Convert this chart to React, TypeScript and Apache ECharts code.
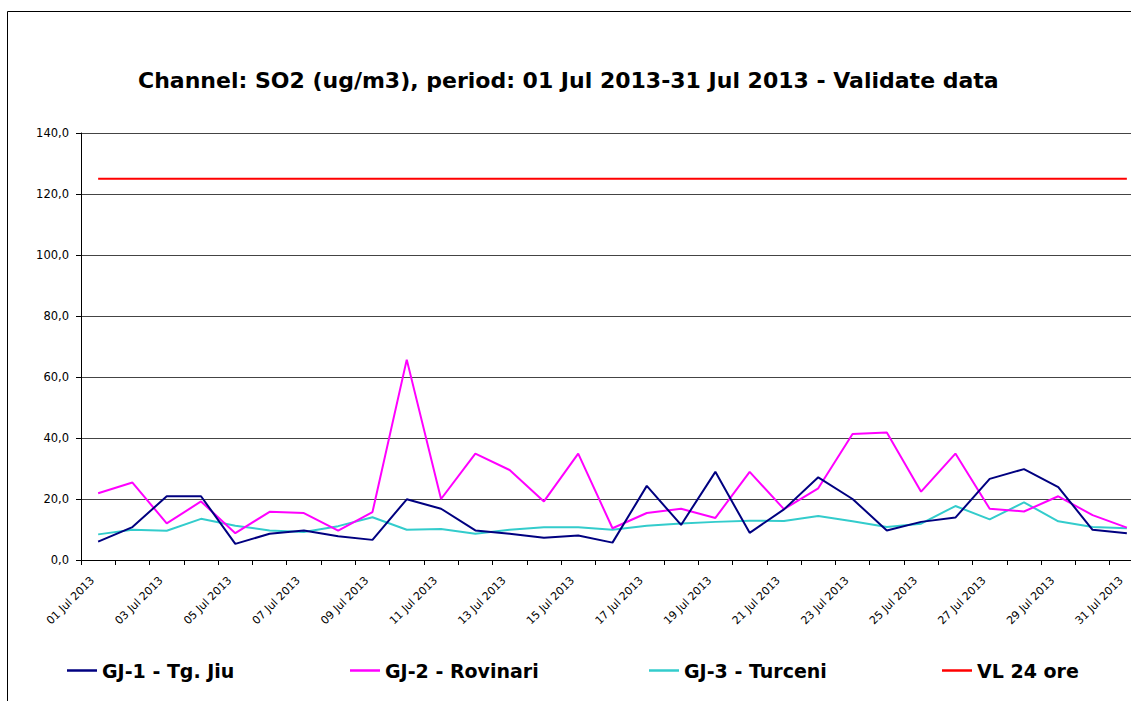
import React, { useEffect, useRef } from "react";
import * as echarts from "echarts";

const categories = [
  "01 Jul 2013", "02 Jul 2013", "03 Jul 2013", "04 Jul 2013", "05 Jul 2013", "06 Jul 2013",
  "07 Jul 2013", "08 Jul 2013", "09 Jul 2013", "10 Jul 2013", "11 Jul 2013", "12 Jul 2013",
  "13 Jul 2013", "14 Jul 2013", "15 Jul 2013", "16 Jul 2013", "17 Jul 2013", "18 Jul 2013",
  "19 Jul 2013", "20 Jul 2013", "21 Jul 2013", "22 Jul 2013", "23 Jul 2013", "24 Jul 2013",
  "25 Jul 2013", "26 Jul 2013", "27 Jul 2013", "28 Jul 2013", "29 Jul 2013", "30 Jul 2013",
  "31 Jul 2013",
];

const gj1TgJiu = [
  6.0, 10.8, 20.9, 20.9, 5.3, 8.6, 9.7, 7.8, 6.6, 19.9, 16.8, 9.7, 8.6, 7.3, 8.0, 5.7,
  24.3, 11.5, 28.9, 8.9, 16.6, 27.1, 20.0, 9.7, 12.5, 13.9, 26.6, 29.8, 23.9, 9.9, 8.8,
];

const gj2Rovinari = [
  21.9, 25.4, 12.0, 19.2, 8.8, 15.8, 15.4, 9.6, 15.7, 65.7, 20.0, 34.9, 29.5, 19.2, 34.9, 10.4,
  15.4, 16.8, 13.8, 28.9, 16.7, 23.5, 41.3, 41.8, 22.4, 34.9, 16.8, 15.9, 20.9, 14.7, 10.6,
];

const gj3Turceni = [
  8.4, 9.9, 9.6, 13.5, 11.2, 9.7, 9.2, 11.1, 14.0, 9.9, 10.2, 8.6, 9.9, 10.7, 10.7, 9.9,
  11.2, 12.0, 12.5, 12.9, 12.8, 14.4, 12.7, 10.8, 11.9, 17.7, 13.3, 18.9, 12.7, 10.8, 10.4,
];

const vl24Ore = [
  125, 125, 125, 125, 125, 125, 125, 125, 125, 125, 125, 125, 125, 125, 125, 125,
  125, 125, 125, 125, 125, 125, 125, 125, 125, 125, 125, 125, 125, 125, 125,
];

const seriesNames = ["GJ-1 - Tg. Jiu", "GJ-2 - Rovinari", "GJ-3 - Turceni", "VL 24 ore"];
const seriesColors = ["#000080", "#FF00FF", "#33CCCC", "#FF0000"];
const legendLeft = [67, 350, 649, 942];

const yTicks = { min: 0, max: 140, interval: 20 };

export default function App() {
  const ref = useRef<HTMLDivElement>(null);

  useEffect(() => {
    if (!ref.current) return;
    const chart = echarts.init(ref.current, null, { renderer: "svg" });
    const dataSets = [gj1TgJiu, gj2Rovinari, gj3Turceni, vl24Ore];
    const option = {
      animation: false,
      backgroundColor: "#ffffff",
      title: {
        text: "Channel: SO2 (ug/m3), period: 01 Jul 2013-31 Jul 2013 - Validate data",
        left: 133,
        top: 64,
        textStyle: {
          fontFamily: "DejaVu Sans",
          fontWeight: "bold",
          fontSize: 22,
          color: "#000",
        },
      },
      legend: seriesNames.map((name, i) => ({
        data: [name],
        left: legendLeft[i],
        top: 661,
        padding: 0,
        icon: "rect",
        itemWidth: 30,
        itemHeight: 2.5,
        itemGap: 0,
        textStyle: {
          fontFamily: "DejaVu Sans",
          fontWeight: "bold",
          fontSize: 19,
          color: "#000",
        },
      })),
      grid: { left: 81, top: 133, right: 0, bottom: 141, containLabel: false },
      xAxis: {
        type: "category",
        data: categories,
        boundaryGap: true,
        axisLine: { show: true, lineStyle: { color: "#000", width: 1 } },
        axisTick: { show: true, interval: 0, length: 5, lineStyle: { color: "#000" } },
        axisLabel: {
          interval: 1,
          rotate: 45,
          fontSize: 11,
          fontFamily: "DejaVu Sans",
          color: "#000",
          margin: 13,
          padding: [0, 8, 0, 0],
        },
        splitLine: { show: false },
      },
      yAxis: {
        type: "value",
        min: yTicks.min,
        max: yTicks.max,
        interval: yTicks.interval,
        axisLine: { show: true, lineStyle: { color: "#000", width: 1 } },
        axisTick: { show: true, length: 5, lineStyle: { color: "#000" } },
        axisLabel: {
          fontSize: 11.5,
          fontFamily: "DejaVu Sans",
          color: "#000",
          margin: 12,
          formatter: (v: number) => v.toFixed(1).replace(".", ","),
        },
        splitLine: { show: true, lineStyle: { color: "#444", width: 1 } },
      },
      graphic: [
        {
          type: "rect",
          shape: { x: 7.5, y: 11.5, width: 1300, height: 900 },
          style: { fill: "none", stroke: "#000", lineWidth: 1 },
          silent: true,
        },
      ],
      series: seriesNames.map((name, i) => ({
        name,
        type: "line",
        data: dataSets[i],
        symbol: "none",
        showSymbol: false,
        smooth: false,
        lineStyle: { color: seriesColors[i], width: 2 },
        itemStyle: { color: seriesColors[i] },
        z: i === 3 ? 1 : 2 + (2 - i),
      })),
    };
    chart.setOption(option as any);
    return () => chart.dispose();
  }, []);

  return (
    <div
      style={{
        position: "absolute",
        left: 0,
        top: 0,
        width: 1131,
        height: 701,
        overflow: "hidden",
        background: "#fff",
      }}
    >
      <div ref={ref} style={{ width: 1144, height: 701 }} />
    </div>
  );
}
